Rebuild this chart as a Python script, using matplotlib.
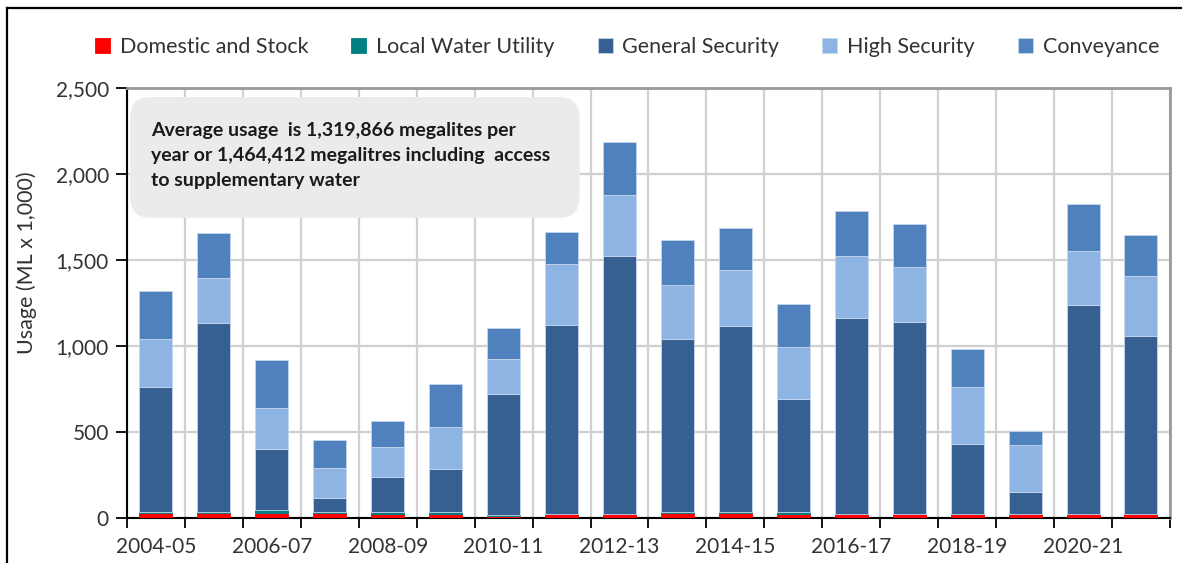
import numpy as np
import matplotlib.pyplot as plt
from matplotlib.patches import FancyBboxPatch
from matplotlib.lines import Line2D
from matplotlib.ticker import FuncFormatter

# data (ML x 1,000)
years = ['2004-05', '2005-06', '2006-07', '2007-08', '2008-09', '2009-10',
         '2010-11', '2011-12', '2012-13', '2013-14', '2014-15', '2015-16',
         '2016-17', '2017-18', '2018-19', '2019-20', '2020-21', '2021-22']
domestic = [30, 30, 30, 30, 22, 22, 12, 22, 22, 32, 32, 22, 22, 22, 22, 22, 22, 22]
local_water = [4, 3, 16, 3, 15, 15, 4, 3, 3, 3, 3, 15, 3, 3, 3, 3, 3, 3]
general_sec = [726, 1101, 357, 81, 199, 246, 707, 1099, 1500, 1006, 1079, 657,
               1136, 1116, 407, 128, 1211, 1033]
high_sec = [279, 261, 237, 179, 179, 244, 203, 355, 355, 316, 328, 300,
            364, 320, 328, 271, 318, 347]
conveyance = [281, 260, 279, 159, 149, 252, 179, 186, 308, 261, 242, 250,
              262, 250, 223, 84, 270, 240]

series = [('Domestic and Stock', domestic, '#ff0000'),
          ('Local Water Utility', local_water, '#008080'),
          ('General Security', general_sec, '#366092'),
          ('High Security', high_sec, '#8eb4e3'),
          ('Conveyance', conveyance, '#4f81bd')]

plt.rcParams['font.family'] = ['Lato', 'DejaVu Sans']
txt_col = '#333333'

fig = plt.figure(figsize=(11.82, 5.63), dpi=100)
ax = fig.add_axes([0.1074, 0.0799, 0.8824, 0.7638])

x = np.arange(len(years))
bottom = np.zeros(len(years))
for name, vals, col in series:
    edge = '#c6d6ec' if col not in ('#ff0000', '#008080') else col
    ax.bar(x, vals, 0.57, bottom=bottom, color=col, edgecolor=edge,
           linewidth=0.6, label=name, zorder=3)
    bottom += np.array(vals)

ax.set_xlim(-0.5, len(years) - 0.5)
ax.set_ylim(0, 2500)
ax.set_yticks(np.arange(0, 2501, 500))
ax.yaxis.set_major_formatter(FuncFormatter(lambda v, p: f'{int(v):,}'))

# labels every other year, ticks and grid at category boundaries
ax.set_xticks(x[::2])
ax.set_xticklabels(years[::2])
ax.set_xticks(np.arange(-0.5, len(years), 1), minor=True)
ax.tick_params(axis='x', which='major', length=0, pad=14, labelsize=15, labelcolor=txt_col)
ax.tick_params(axis='x', which='minor', length=7, width=1.3, direction='out', color='black')
ax.tick_params(axis='y', length=8, width=1.3, direction='out', pad=5, labelsize=15, labelcolor=txt_col)

ax.grid(axis='y', color='#d0d0d0', linewidth=1.6, zorder=0)
ax.grid(axis='x', which='minor', color='#d0d0d0', linewidth=1.6, zorder=0)
ax.set_axisbelow(True)

for s in ['left', 'bottom']:
    ax.spines[s].set_color('black')
    ax.spines[s].set_linewidth(1.5)
for s in ['top', 'right']:
    ax.spines[s].set_color('#9a9a9a')
    ax.spines[s].set_linewidth(2)

fig.text(27 / 1182, 1 - 263 / 563, 'Usage (ML x 1,000)', rotation=90,
         ha='center', va='center', fontsize=15.5, color=txt_col)

# rounded note box
box = FancyBboxPatch((0.003, 0.698), 0.431, 0.281,
                     boxstyle='round,pad=0,rounding_size=0.02',
                     mutation_aspect=1043 / 430, transform=ax.transAxes,
                     facecolor='#ebebeb', edgecolor='none', zorder=4)
ax.add_patch(box)
ax.text(0.023, 0.843,
        'Average usage  is 1,319,866 megalites per\n'
        'year or 1,464,412 megalitres including  access\n'
        'to supplementary water',
        transform=ax.transAxes, ha='left', va='center', fontsize=14,
        fontweight='bold', color='#1a1a1a', linespacing=1.55, zorder=5)

fig.legend(loc='center', bbox_to_anchor=(627 / 1182, 1 - 47 / 563), ncol=5,
           frameon=False, fontsize=15.5, handlelength=0.7, handleheight=0.7,
           handletextpad=0.45, columnspacing=2.0, labelcolor=txt_col)

# outer frame (top and left only)
fig.add_artist(Line2D([7 / 1182, 1], [1 - 8 / 563, 1 - 8 / 563], color='black', linewidth=1.6))
fig.add_artist(Line2D([7 / 1182, 7 / 1182], [0, 1 - 8 / 563], color='black', linewidth=1.6))

fig.savefig('out.png', dpi=100)
